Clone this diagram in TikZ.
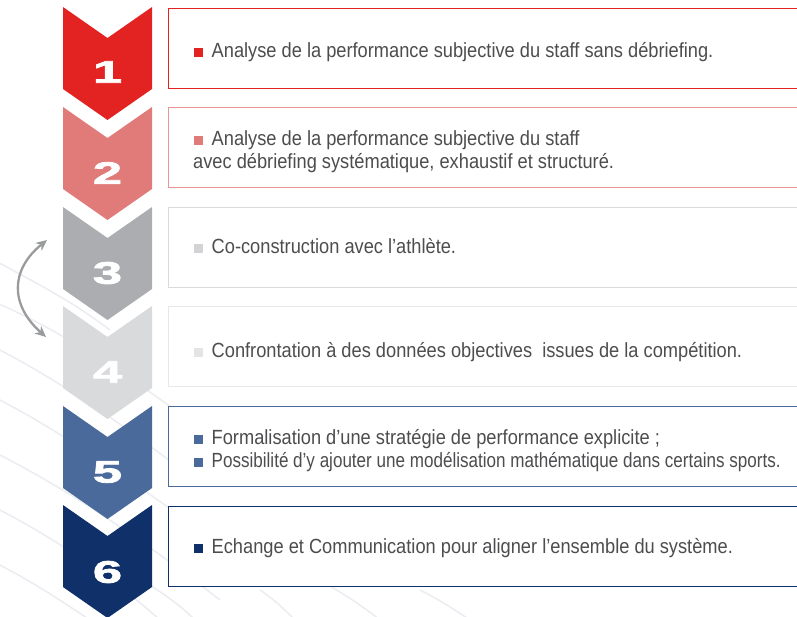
\documentclass[tikz,border=0pt]{standalone}
\usepackage{fontspec}
\setmainfont{Liberation Sans}[FakeStretch=0.89]
\newfontfamily\numfont{Liberation Sans}[FakeStretch=1.7, BoldFeatures={FakeBold=2.5}]
\usetikzlibrary{arrows.meta}
\definecolor{c1}{HTML}{E32322}
\definecolor{c2}{HTML}{E07B7A}
\definecolor{c3}{HTML}{ABADB0}
\definecolor{c4}{HTML}{D9DADC}
\definecolor{c5}{HTML}{4A6A9C}
\definecolor{c6}{HTML}{10306A}
\definecolor{b2}{HTML}{E89595}
\definecolor{b3}{HTML}{DADADA}
\definecolor{b4}{HTML}{E8E8E8}
\definecolor{q3}{HTML}{D2D3D5}
\definecolor{q4}{HTML}{E4E4E5}
\definecolor{txt}{HTML}{4D4D4F}
\definecolor{arrowgray}{HTML}{9A9B9D}
\definecolor{bgl}{HTML}{ECEDF1}
\newcommand\bul[1]{{\color{#1}\rule{9pt}{9pt}}\hspace{8.5pt}}
\begin{document}
\begin{tikzpicture}[x=1pt,y=-1pt,
  stepbox/.style={draw=#1, line width=1.2pt, fill=white, anchor=north west,
    minimum width=660pt, minimum height=80pt, inner sep=0pt},
  lbl/.style={anchor=base west, inner sep=0pt, text=txt,
    font=\fontsize{20.5}{23}\selectfont},
  num/.style={text=white, inner sep=0pt,
    font=\numfont\bfseries\fontsize{31}{31}\selectfont},
  bgline/.style={draw=bgl, line width=1.6pt}]
\useasboundingbox (0,0) rectangle (797,616);
\clip (0,0) rectangle (797,616);
% faint background lines
\draw[bgline] (-10,258) .. controls (40,285) and (70,300) .. (110,330);
\draw[bgline] (-10,300) .. controls (60,330) and (120,370) .. (175,410);
\draw[bgline] (-10,345) .. controls (60,380) and (130,430) .. (175,465);
\draw[bgline] (-10,395) .. controls (60,430) and (130,480) .. (200,530);
\draw[bgline] (-10,450) .. controls (60,485) and (130,530) .. (220,600);
\draw[bgline] (-10,505) .. controls (50,535) and (110,575) .. (160,620);
\draw[bgline] (-10,560) .. controls (30,580) and (60,600) .. (90,620);
\draw[bgline] (150,585) .. controls (165,595) and (180,605) .. (195,620);
\draw[bgline] (260,590) .. controls (275,600) and (285,610) .. (295,620);
\draw[bgline] (330,586) .. controls (350,598) and (365,608) .. (380,620);
\draw[bgline] (420,590) .. controls (440,600) and (455,610) .. (470,620);
% chevrons
\fill[c1] (63,7)   -- ++(44.5,31) -- ++(44.5,-31) -- ++(0,82) -- ++(-44.5,31) -- ++(-44.5,-31) -- cycle;
\fill[c2] (63,107) -- ++(44.5,31) -- ++(44.5,-31) -- ++(0,82) -- ++(-44.5,31) -- ++(-44.5,-31) -- cycle;
\fill[c3] (63,207) -- ++(44.5,31) -- ++(44.5,-31) -- ++(0,82) -- ++(-44.5,31) -- ++(-44.5,-31) -- cycle;
\fill[c4] (63,306) -- ++(44.5,31) -- ++(44.5,-31) -- ++(0,82) -- ++(-44.5,31) -- ++(-44.5,-31) -- cycle;
\fill[c5] (63,406) -- ++(44.5,31) -- ++(44.5,-31) -- ++(0,82) -- ++(-44.5,31) -- ++(-44.5,-31) -- cycle;
\fill[c6] (63,505) -- ++(44.5,31) -- ++(44.5,-31) -- ++(0,82) -- ++(-44.5,31) -- ++(-44.5,-31) -- cycle;
% numbers
\node[num] (n1) at (107.5,72)  {1};
\node[num] (n2) at (107.5,173) {2};
\node[num] (n3) at (107.5,273) {3};
\node[num] (n4) at (107.5,372) {4};
\node[num] (n5) at (107.5,472) {5};
\node[num] (n6) at (107.5,572) {6};
% boxes
\node[stepbox=c1] (b1) at (168,8)   {};
\node[stepbox=b2] (b2) at (168,107) {};
\node[stepbox=b3] (b3) at (168,207) {};
\node[stepbox=b4] (b4) at (168,306) {};
\node[stepbox=c5] (b5) at (168,406) {};
\node[stepbox=c6] (b6) at (168,506) {};
% texts
\node[lbl] (t1)  at (194,57)  {\bul{c1}Analyse de la performance subjective du staff sans débriefing.};
\node[lbl] (t2a) at (194,145) {\bul{c2}Analyse de la performance subjective du staff};
\node[lbl] (t2b) at (193,168) {avec débriefing systématique, exhaustif et structuré.};
\node[lbl] (t3)  at (194,253) {\bul{q3}Co-construction avec l’athlète.};
\node[lbl] (t4)  at (194,357) {\bul{q4}Confrontation à des données objectives\ \ issues de la compétition.};
\node[lbl] (t5a) at (194,444) {\bul{c5}Formalisation d’une stratégie de performance explicite ;};
\node[lbl] (t5b) at (194,467) {\bul{c5}\scalebox{0.935}[1]{Possibilité d’y ajouter une modélisation mathématique dans certains sports.}};
\node[lbl] (t6)  at (194,553) {\bul{c6}Echange et Communication pour aligner l’ensemble du système.};
% exchange arrow between 3 and 4
\coordinate (a1) at (47,240);
\coordinate (a2) at (46,337);
\draw[{Stealth[length=11pt,width=10pt]}-{Stealth[length=11pt,width=10pt]}, draw=arrowgray, line width=2.3pt]
  (a1) .. controls (10,270) and (10,305) .. (a2);
\end{tikzpicture}
\end{document}
